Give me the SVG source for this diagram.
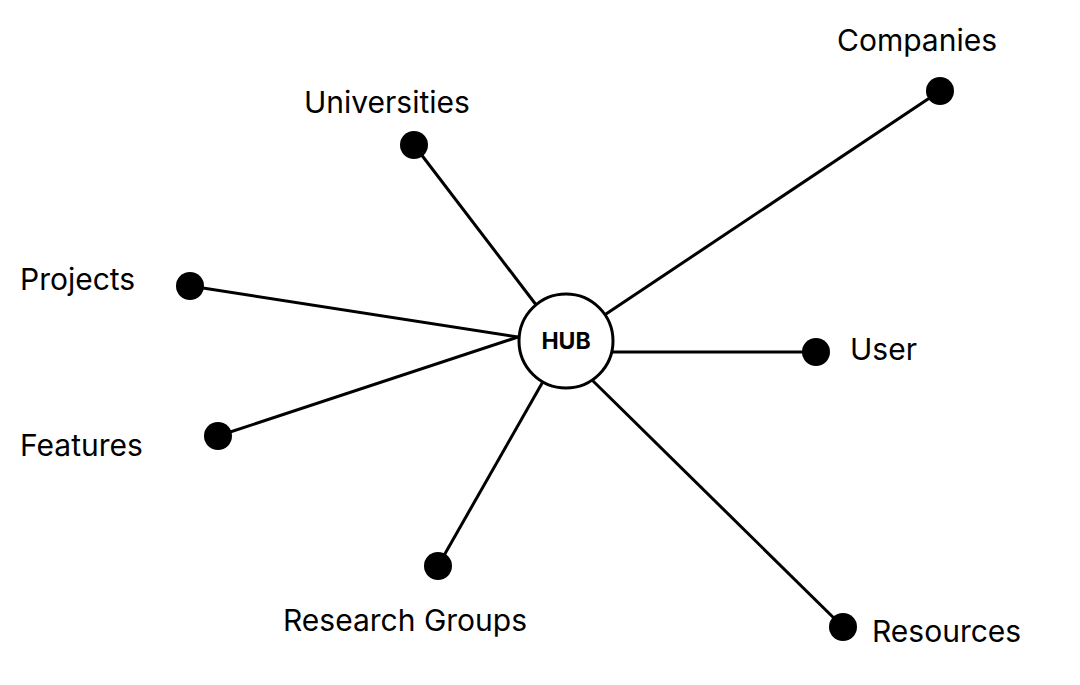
<svg xmlns="http://www.w3.org/2000/svg" width="1080" height="685" viewBox="0 0 1080 685">
<style>
.l{stroke:#000;stroke-width:3;fill:none}
.d{fill:#000}
.t{font-family:Inter,"Liberation Sans",sans-serif;font-size:30px;fill:#000}
</style>
<rect width="1080" height="685" fill="#fff"/>
<g id="connectors">
<line class="l" x1="414" y1="145" x2="540" y2="310"/>
<line class="l" x1="940" y1="91" x2="600" y2="318"/>
<line class="l" x1="190" y1="286" x2="518" y2="337"/>
<line class="l" x1="816" y1="352" x2="612" y2="352"/>
<line class="l" x1="218" y1="436" x2="518" y2="337"/>
<line class="l" x1="438" y1="566" x2="545" y2="378"/>
<line class="l" x1="843" y1="627" x2="590" y2="378"/>
</g>
<g id="hub"><circle cx="566" cy="341" r="47" fill="#fff" stroke="#000" stroke-width="3"/><text x="566" y="349" text-anchor="middle" font-family="Inter,'Liberation Sans',sans-serif" font-weight="bold" font-size="23">HUB</text></g>
<g id="universities"><circle class="d" cx="414" cy="145" r="14"/><text class="t" x="304" y="113">Universities</text></g>
<g id="companies"><circle class="d" cx="940" cy="91" r="14"/><text class="t" x="837" y="51">Companies</text></g>
<g id="projects"><circle class="d" cx="190" cy="286" r="14"/><text class="t" x="20" y="290">Projects</text></g>
<g id="user"><circle class="d" cx="816" cy="352" r="14"/><text class="t" x="850" y="360">User</text></g>
<g id="features"><circle class="d" cx="218" cy="436" r="14"/><text class="t" x="20" y="456">Features</text></g>
<g id="research"><circle class="d" cx="438" cy="566" r="14"/><text class="t" x="283" y="631">Research Groups</text></g>
<g id="resources"><circle class="d" cx="843" cy="627" r="14"/><text class="t" x="872" y="642">Resources</text></g>
</svg>
